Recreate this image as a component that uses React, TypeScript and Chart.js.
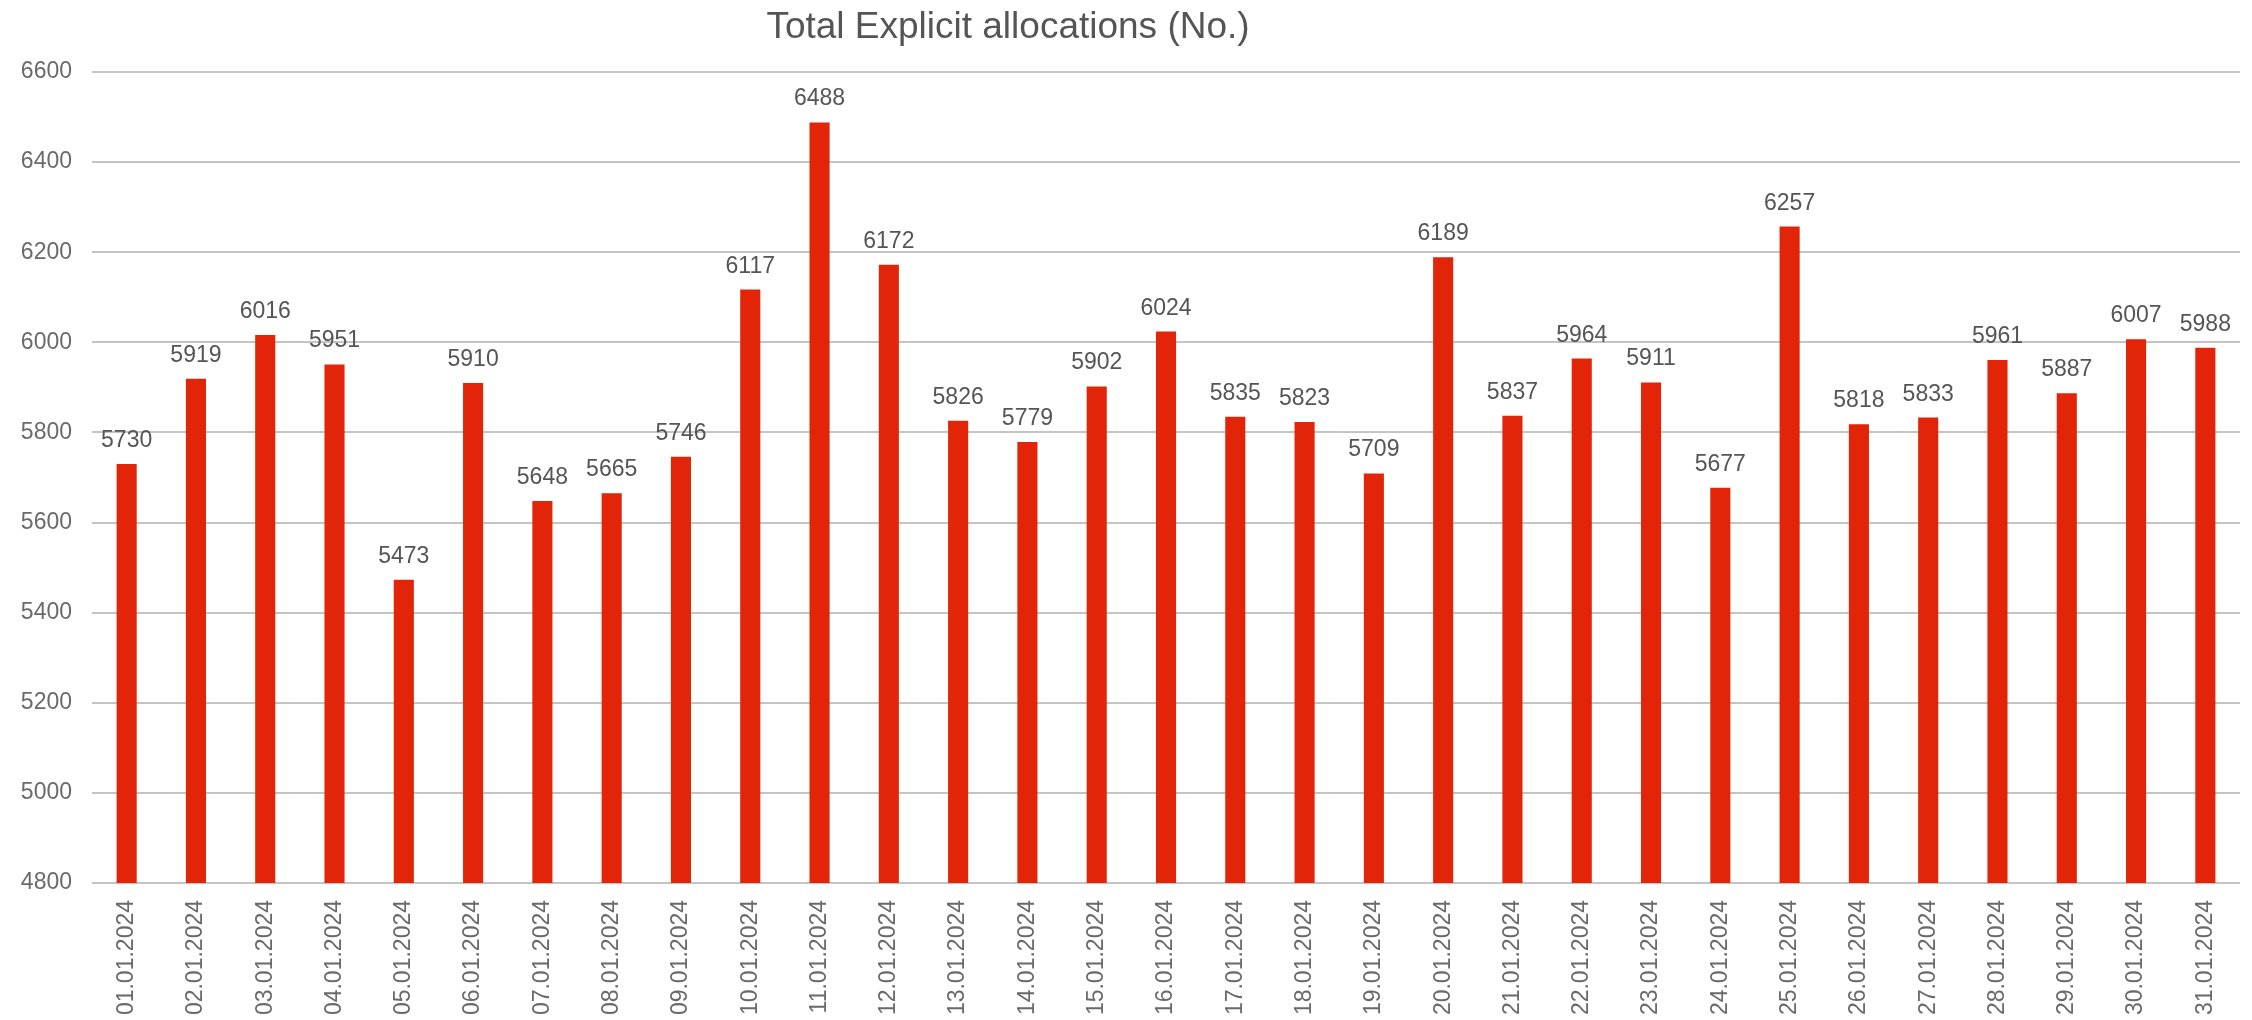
import React, { useEffect, useRef } from "react";
import { Chart, registerables } from "chart.js";

Chart.register(...registerables);

const dateLabels: string[] = [
  "01.01.2024", "02.01.2024", "03.01.2024", "04.01.2024", "05.01.2024", "06.01.2024",
  "07.01.2024", "08.01.2024", "09.01.2024", "10.01.2024", "11.01.2024", "12.01.2024",
  "13.01.2024", "14.01.2024", "15.01.2024", "16.01.2024", "17.01.2024", "18.01.2024",
  "19.01.2024", "20.01.2024", "21.01.2024", "22.01.2024", "23.01.2024", "24.01.2024",
  "25.01.2024", "26.01.2024", "27.01.2024", "28.01.2024", "29.01.2024", "30.01.2024",
  "31.01.2024",
];

const allocations: number[] = [
  5730, 5919, 6016, 5951, 5473, 5910, 5648, 5665, 5746, 6117, 6488, 6172, 5826, 5779,
  5902, 6024, 5835, 5823, 5709, 6189, 5837, 5964, 5911, 5677, 6257, 5818, 5833, 5961,
  5887, 6007, 5988,
];

const chartTitle = "Total Explicit allocations (No.)";
const yMin = 4800;
const yMax = 6600;
const yStep = 200;

const FONT = "'Liberation Sans', Arial, sans-serif";

const valueLabelPlugin = {
  id: "valueLabels",
  afterDatasetsDraw(chart: any) {
    const ctx = chart.ctx;
    const meta = chart.getDatasetMeta(0);
    const data = chart.data.datasets[0].data as number[];
    ctx.save();
    ctx.font = `23px ${FONT}`;
    ctx.fillStyle = "#555555";
    ctx.textAlign = "center";
    ctx.textBaseline = "alphabetic";
    meta.data.forEach((el: any, i: number) => {
      ctx.fillText(String(data[i]), el.x, el.y - 17);
    });
    ctx.restore();
  },
};

const titlePlugin = {
  id: "offsetTitle",
  afterDraw(chart: any) {
    const ctx = chart.ctx;
    ctx.save();
    ctx.font = `37px ${FONT}`;
    ctx.fillStyle = "#555555";
    ctx.textAlign = "center";
    ctx.textBaseline = "middle";
    ctx.fillText(chartTitle, chart.width * 0.4476, 28);
    ctx.restore();
  },
};

export default function App() {
  const canvasRef = useRef<HTMLCanvasElement | null>(null);

  useEffect(() => {
    document.body.style.margin = "0";
    const canvas = canvasRef.current;
    if (!canvas) return;
    const chart = new Chart(canvas, {
      type: "bar",
      data: {
        labels: dateLabels,
        datasets: [
          {
            data: allocations,
            backgroundColor: "#e22408",
            borderWidth: 0,
            barPercentage: 0.29,
            categoryPercentage: 1,
          },
        ],
      },
      options: {
        responsive: false,
        animation: false,
        layout: { padding: { top: 72, right: 12, left: 0, bottom: 0 } },
        plugins: {
          legend: { display: false },
          title: { display: false },
          tooltip: { enabled: false },
        },
        scales: {
          x: {
            grid: { display: false, drawTicks: false },
            border: { display: false },
            ticks: {
              color: "#6a6a6a",
              font: { family: FONT, size: 23 },
              minRotation: 90,
              maxRotation: 90,
              padding: 17,
              autoSkip: false,
            },
            afterFit: (scale: any) => {
              scale.height = 137;
            },
          },
          y: {
            min: yMin,
            max: yMax,
            grid: { color: "#c4c4c4", lineWidth: 2, drawTicks: false },
            border: { display: false },
            ticks: {
              stepSize: yStep,
              color: "#6a6a6a",
              font: { family: FONT, size: 23 },
              padding: 20,
              callback: (value: any) => String(value),
            },
            afterFit: (scale: any) => {
              scale.width = 92;
            },
          },
        },
      },
      plugins: [valueLabelPlugin, titlePlugin],
    });
    return () => chart.destroy();
  }, []);

  return (
    <div style={{ width: 2252, height: 1020, background: "#ffffff" }}>
      <canvas ref={canvasRef} width={2252} height={1020} style={{ display: "block" }} />
    </div>
  );
}
